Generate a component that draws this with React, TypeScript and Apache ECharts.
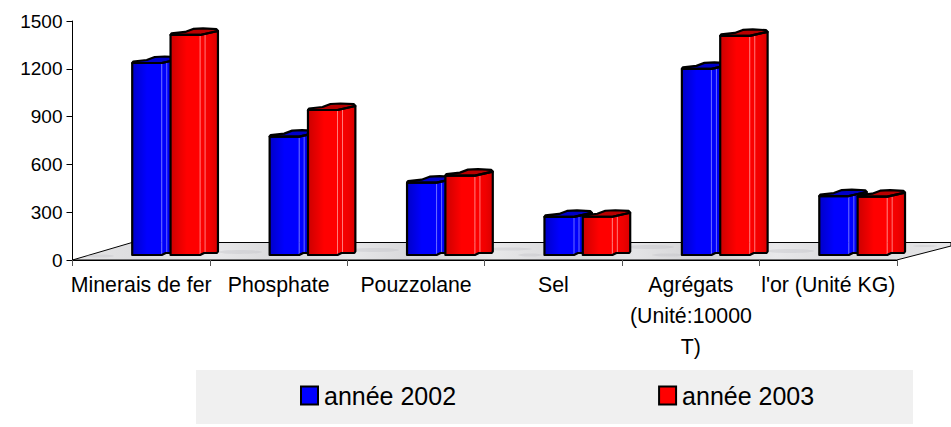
import React, { useEffect, useRef } from "react";
import * as echarts from "echarts";

const categories = ["Minerais de fer", "Phosphate", "Pouzzolane", "Sel", "Agrégats\n(Unité:10000\nT)", "l'or (Unité KG)"];
const values2002 = [1205, 743, 454, 239, 1168, 370];
const values2003 = [1381, 910, 498, 240, 1375, 366];
const yTicksMax = 1500;
const yInterval = 300;
const FONT = "'Liberation Sans', Arial, sans-serif";

const grad = (stops: [number, string][]) =>
  new echarts.graphic.LinearGradient(0, 0, 1, 0, stops.map(([offset, color]) => ({ offset, color })));

const palettes = [
  {
    front: [[0, "#0000C8"], [0.5, "#0000FF"], [1, "#0000FF"]] as [number, string][],
    side: [[0, "#0000FF"], [0.6, "#0000F0"], [1, "#0000D8"]] as [number, string][],
    top: "#0000C8",
    hi: "#6A6AFF",
  },
  {
    front: [[0, "#CC0000"], [0.55, "#FF0000"], [1, "#FF0000"]] as [number, string][],
    side: [[0, "#FF0000"], [0.6, "#F00000"], [1, "#D80000"]] as [number, string][],
    top: "#B80000",
    hi: "#FF7A7A",
  },
];

function barRenderer(idx: number) {
  return (_params: any, api: any) => {
    const cat = api.value(0);
    const val = api.value(1);
    const c0 = api.coord([cat, 0]);
    const c1 = api.coord([cat, val]);
    const band = api.size([1, 0])[0];
    const x = c0[0] + band * (idx === 0 ? -0.0655 : 0.2135);
    const w = band * 0.215;
    const dx = band * 0.13;
    const yb = c0[1] - 5;
    const yt = c1[1] - 5;
    const p = palettes[idx];
    const line = { stroke: "#000", lineWidth: 2.2, lineJoin: "round" };
    const topBack = [
      [x + w + dx, yt - 4],
      [x + w + dx - 1.5, yt - 5.8],
      [x + w + 3, yt - 6.5],
      [x + w - 7, yt - 6],
      [x + w - 15, yt - 3],
      [x + 1, yt - 1.5],
    ];
    return {
      type: "group",
      children: [
        {
          type: "polygon",
          shape: { points: [[x + w, yb], [x + w + 4, yb - 2], [x + w + dx - 1, yb - 2], [x + w + dx, yb - 3.5], [x + w + dx, yt - 4], [x + w, yt]] },
          style: { fill: grad(p.side) },
        },
        {
          type: "polygon",
          shape: { points: [[x, yb], [x + w, yb], [x + w, yt], [x, yt]] },
          style: { fill: grad(p.front) },
        },
        { type: "line", shape: { x1: x + w, y1: yb - 1, x2: x + w, y2: yt + 1 }, style: { stroke: p.hi, lineWidth: 1 } },
        { type: "line", shape: { x1: x + w + 5, y1: yb - 3, x2: x + w + 5, y2: yt - 2 }, style: { stroke: p.hi, lineWidth: 1 } },
        {
          type: "polygon",
          shape: { points: [[x, yt], [x + w, yt], ...topBack] },
          style: { fill: p.top, ...line },
        },
        {
          type: "polygon",
          shape: {
            points: [[x, yb], [x + w, yb], [x + w + 4, yb - 2], [x + w + dx - 1, yb - 2], [x + w + dx, yb - 3.5], [x + w + dx, yt - 4], [x + w, yt], [x, yt]],
          },
          style: { fill: "none", ...line },
        },
      ],
    };
  };
}

const floorStops: [number, string][] = [
  [0, "#E6E6E8"], [0.08, "#DCDCDE"], [0.16, "#E8E8EA"], [0.24, "#D8D8DA"], [0.32, "#E6E6E8"],
  [0.4, "#D4D4D6"], [0.48, "#E8E8EA"], [0.56, "#D8D8DA"], [0.64, "#E4E4E6"], [0.72, "#D2D2D4"],
  [0.8, "#E8E8EA"], [0.88, "#DADADC"], [1, "#E6E6E8"],
];
// decorative mottling of the floor: [cx, cy, rx, ry]
const floorSpots = [
  [240, 252, 22, 2], [375, 250, 24, 2], [508, 249, 24, 1.5], [530, 255, 12, 1.5],
  [650, 247, 24, 2], [668, 255, 16, 1.5], [790, 251, 24, 2], [925, 246, 12, 1], [100, 256, 14, 1.5],
];

export default function App() {
  const ref = useRef<HTMLDivElement>(null);
  useEffect(() => {
    const chart = echarts.init(ref.current!, undefined, { renderer: "svg" });
    chart.setOption({
      animation: false,
      backgroundColor: "#fff",
      textStyle: { fontFamily: FONT },
      grid: { left: 72.5, top: 21, width: 824.5, height: 239, containLabel: false },
      legend: {
        left: 300,
        top: 383,
        itemWidth: 17,
        itemHeight: 18,
        itemGap: 202,
        icon: "rect",
        padding: 0,
        textStyle: { fontSize: 25, fontFamily: FONT, color: "#000", padding: [0, 0, 5, 1] },
        data: ["année 2002", "année 2003"],
      },
      graphic: {
        elements: [
          { type: "rect", z: -3, silent: true, shape: { x: 196, y: 370, width: 717, height: 54 }, style: { fill: "#F0F0F0" } },
          {
            type: "polygon",
            z: -2,
            silent: true,
            shape: { points: [[72.5, 260], [132, 242.5], [951, 242.5], [951, 246], [896.7, 260]] },
            style: { fill: grad(floorStops), stroke: "#000", lineWidth: 1 },
          },
          ...floorSpots.map(([cx, cy, rx, ry]) => ({
            type: "ellipse",
            z: -1,
            silent: true,
            shape: { cx, cy, rx, ry },
            style: { fill: "#BDBDC2", opacity: 0.35 },
          })),
        ],
      },
      xAxis: {
        type: "category",
        data: categories,
        boundaryGap: true,
        axisLine: { show: true, lineStyle: { color: "#000", width: 1 } },
        axisTick: { show: true, length: 6, alignWithLabel: false, lineStyle: { color: "#555" } },
        axisLabel: { interval: 0, color: "#000", fontSize: 21.3, fontFamily: FONT, lineHeight: 31, margin: 9 },
      },
      yAxis: {
        type: "value",
        min: 0,
        max: yTicksMax,
        interval: yInterval,
        splitLine: { show: false },
        axisLine: { show: true, lineStyle: { color: "#000", width: 1 } },
        axisTick: { show: true, length: 6, lineStyle: { color: "#000" } },
        axisLabel: { color: "#000", fontSize: 19, fontFamily: FONT, margin: 10, formatter: (v: number) => String(v) },
      },
      series: [
        {
          name: "année 2002",
          type: "custom",
          renderItem: barRenderer(0),
          encode: { x: 0, y: 1 },
          clip: false,
          itemStyle: { color: "#0000FF", borderColor: "#000", borderWidth: 1.5 },
          data: values2002.map((v, i) => [i, v]),
        },
        {
          name: "année 2003",
          type: "custom",
          renderItem: barRenderer(1),
          encode: { x: 0, y: 1 },
          clip: false,
          itemStyle: { color: "#FF0000", borderColor: "#000", borderWidth: 1.5 },
          data: values2003.map((v, i) => [i, v]),
        },
      ],
    });
    return () => chart.dispose();
  }, []);
  return <div ref={ref} style={{ position: "fixed", left: 0, top: 0, width: 951, height: 427 }} />;
}
